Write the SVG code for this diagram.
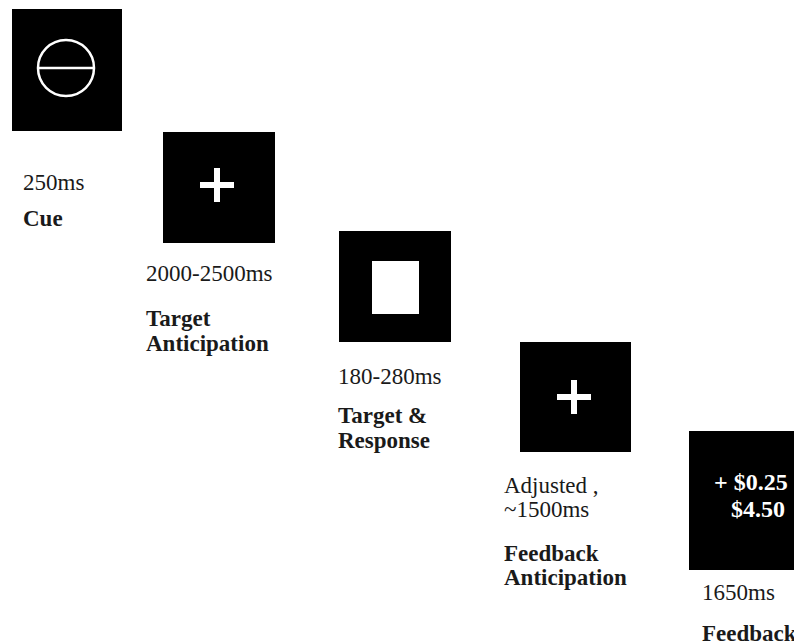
<svg xmlns="http://www.w3.org/2000/svg" width="794" height="644" viewBox="0 0 794 644">
<style>
.scr{fill:#000}
.t{font-family:"Liberation Serif","Times New Roman",serif;font-size:23px;fill:#1a1a1a}
.b{font-weight:bold}
.w{fill:#fff;font-weight:bold;font-size:24px}
.ln{stroke:#fff;fill:none}
</style>
<rect width="794" height="644" fill="#fff"/>
<g id="cue">
<rect class="scr" x="12" y="9" width="110" height="122"/>
<circle class="ln" cx="66" cy="68" r="28" stroke-width="2.5"/>
<line class="ln" x1="38" y1="68" x2="94" y2="68" stroke-width="2.5"/>
<text class="t" x="23" y="190">250ms</text>
<text class="t b" x="23" y="226">Cue</text>
</g>
<g id="target-anticipation">
<rect class="scr" x="163" y="132" width="112" height="111"/>
<path class="ln" d="M200 185H234M217 168V202" stroke-width="6"/>
<text class="t" x="146" y="281">2000-2500ms</text>
<text class="t b" x="146" y="326">Target</text>
<text class="t b" x="146" y="351">Anticipation</text>
</g>
<g id="target-response">
<rect class="scr" x="339" y="231" width="112" height="111"/>
<rect x="372" y="261" width="47" height="53" fill="#fff"/>
<text class="t" x="338" y="384">180-280ms</text>
<text class="t b" x="338" y="423">Target &amp;</text>
<text class="t b" x="338" y="448">Response</text>
</g>
<g id="feedback-anticipation">
<rect class="scr" x="520" y="342" width="111" height="110"/>
<path class="ln" d="M557 397H591M574 380V414" stroke-width="6"/>
<text class="t" x="504" y="493">Adjusted ,</text>
<text class="t" x="504" y="517">~1500ms</text>
<text class="t b" x="504" y="561">Feedback</text>
<text class="t b" x="504" y="585">Anticipation</text>
</g>
<g id="feedback">
<rect class="scr" x="689" y="431" width="110" height="139"/>
<text class="t w" x="714" y="490">+ $0.25</text>
<text class="t w" x="731" y="517">$4.50</text>
<text class="t" x="702" y="600">1650ms</text>
<text class="t b" x="702" y="641">Feedback</text>
</g>
</svg>
